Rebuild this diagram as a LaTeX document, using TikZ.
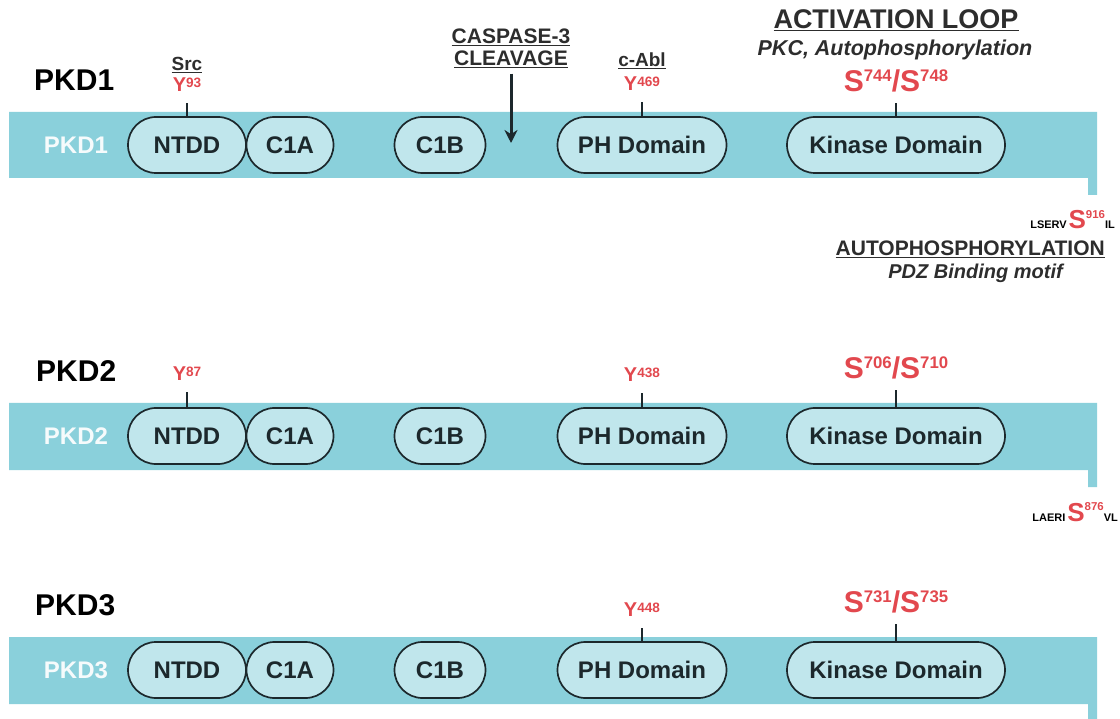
\documentclass[tikz,border=0pt]{standalone}
\usepackage{fontspec}
\setmainfont{Liberation Sans}
\usepackage{graphicx}
\usepackage{tikz}
\usetikzlibrary{arrows.meta, shapes.misc, positioning}
\definecolor{pkdteal}{RGB}{138,208,219}
\definecolor{domfill}{RGB}{192,230,236}
\definecolor{sitered}{RGB}{226,72,78}
\definecolor{labgray}{RGB}{45,45,45}
\definecolor{domline}{RGB}{28,40,44}
\newcommand{\fsz}[1]{\fontsize{#1}{#1}\selectfont}
% residue with raised number, tops aligned
\newcommand{\phos}[3][0.62]{#2\raisebox{\fpeval{0.716*(1-#1)}em}{\scalebox{#1}{#3}}}

\begin{document}
\begin{tikzpicture}[x=1pt, y=-1pt,
    dom/.style={rounded rectangle, draw=domline, line width=1.7pt, fill=domfill,
                minimum height=56pt, inner sep=0pt, text=domline,
                font=\fsz{24}\bfseries},
    site/.style={text=sitered, inner sep=0pt, anchor=south, font=\fsz{20}\bfseries},
    actsite/.style={site, font=\fsz{30}\bfseries},
    kinase/.style={text=labgray, inner sep=0pt, font=\fsz{19}\bfseries},
    pkdname/.style={anchor=base west, inner sep=0pt, font=\fsz{30}\bfseries},
    inname/.style={text=white!92!pkdteal, inner sep=0pt, font=\fsz{24}\bfseries},
    tail/.style={anchor=base east, inner sep=0pt, font=\fsz{11}\bfseries},
    tick/.style={line width=1.5pt, domline, shorten >=11pt}]
  \useasboundingbox (0,0) rectangle (1120,719);

  % protein bars
  \fill[pkdteal] (9,112) -- (1097,112) -- (1097,195) -- (1088,195)
                 -- (1088,178) -- (9,178) -- cycle;
  \fill[pkdteal] (9,403) -- (1097,403) -- (1097,487) -- (1088,487)
                 -- (1088,470) -- (9,470) -- cycle;
  \fill[pkdteal] (9,637) -- (1097,637) -- (1097,719) -- (1088,719)
                 -- (1088,704) -- (9,704) -- cycle;

  % PKD1
  \node[pkdname] (pkd1) at (34,91) {PKD1};
  \node[inname] (bar1) at (76,145) {PKD1};
  \node[dom, minimum width=118pt] (ntdd1) at (187,145) {NTDD};
  \node[dom, minimum width=87pt] (c1a1) at (290,145) {C1A};
  \node[dom, minimum width=91pt] (c1b1) at (440,145) {C1B};
  \node[dom, minimum width=169pt] (ph1) at (642,145) {PH Domain};
  \node[dom, minimum width=218pt] (kin1) at (896,145) {Kinase Domain};

  \node[site] (y93) at (187,92) {\phos[0.68]{Y}{93}};
  \node[kinase, anchor=base] (src) at (187,71) {\underline{Src}};
  \node[site] (y469) at (642,91) {\phos[0.68]{Y}{469}};
  \node[kinase, anchor=base] (cabl) at (642,67) {\underline{c-Abl}};
  \node[actsite] (s744) at (896,92) {\phos[0.56]{S}{744}/\phos[0.56]{S}{748}};
  \node[kinase, anchor=base, font=\fsz{21.5}\bfseries\itshape] (pkc) at (895,56)
        {PKC, Autophosphorylation};
  \node[kinase, anchor=base, font=\fsz{27}\bfseries] (actloop) at (896,29)
        {\underline{ACTIVATION LOOP}};
  \draw[tick] (ntdd1) -- (y93);
  \draw[tick] (ph1) -- (y469);
  \draw[tick] (kin1) -- (s744);

  \node[kinase, align=center, font=\fsz{21}\bfseries] (casp) at (511,48)
        {\underline{CASPASE-3}\\[1pt]\underline{CLEAVAGE}};
  \coordinate (cut1) at (511,143);
  \draw[-{Stealth[length=13pt, width=13pt]}, line width=3pt, domline,
        shorten <=6pt] (casp) -- (cut1);

  \node[tail] (ct1) at (1115,229)
        {LSERV\,\textcolor{sitered}{\fsz{26}\phos[0.44]{S}{916}}IL};
  \node[kinase, anchor=base east, font=\fsz{21}\bfseries] (autop) at (1105,256)
        {\underline{AUTOPHOSPHORYLATION}};
  \node[kinase, anchor=base east, font=\fsz{20}\bfseries\itshape] (pdz) at (1063,279)
        {PDZ Binding motif};

  % PKD2
  \node[pkdname] (pkd2) at (36,382) {PKD2};
  \node[inname] (bar2) at (76,436) {PKD2};
  \node[dom, minimum width=118pt] (ntdd2) at (187,436) {NTDD};
  \node[dom, minimum width=87pt] (c1a2) at (290,436) {C1A};
  \node[dom, minimum width=91pt] (c1b2) at (440,436) {C1B};
  \node[dom, minimum width=169pt] (ph2) at (642,436) {PH Domain};
  \node[dom, minimum width=218pt] (kin2) at (896,436) {Kinase Domain};

  \node[site] (y87) at (187,381) {\phos[0.68]{Y}{87}};
  \node[site] (y438) at (642,382) {\phos[0.68]{Y}{438}};
  \node[actsite] (s706) at (896,379) {\phos[0.56]{S}{706}/\phos[0.56]{S}{710}};
  \draw[tick] (ntdd2) -- (y87);
  \draw[tick] (ph2) -- (y438);
  \draw[tick] (kin2) -- (s706);

  \node[tail] (ct2) at (1118,521)
        {LAERI\,\textcolor{sitered}{\fsz{26}\phos[0.44]{S}{876}}VL};

  % PKD3
  \node[pkdname] (pkd3) at (35,615) {PKD3};
  \node[inname] (bar3) at (76,670) {PKD3};
  \node[dom, minimum width=118pt] (ntdd3) at (187,670) {NTDD};
  \node[dom, minimum width=87pt] (c1a3) at (290,670) {C1A};
  \node[dom, minimum width=91pt] (c1b3) at (440,670) {C1B};
  \node[dom, minimum width=169pt] (ph3) at (642,670) {PH Domain};
  \node[dom, minimum width=218pt] (kin3) at (896,670) {Kinase Domain};

  \node[site] (y448) at (642,617) {\phos[0.68]{Y}{448}};
  \node[actsite] (s731) at (896,613) {\phos[0.56]{S}{731}/\phos[0.56]{S}{735}};
  \draw[tick] (ph3) -- (y448);
  \draw[tick] (kin3) -- (s731);
\end{tikzpicture}
\end{document}
